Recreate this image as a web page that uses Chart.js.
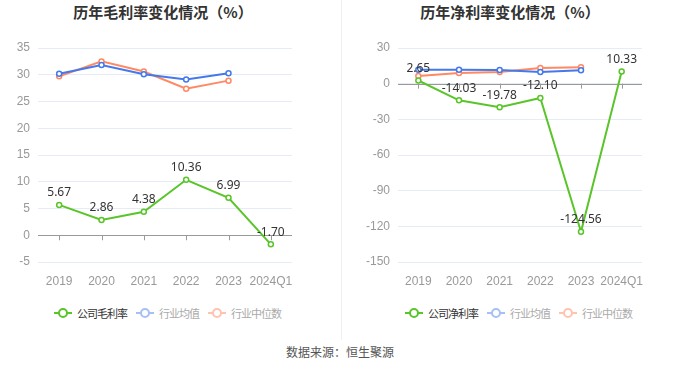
<!DOCTYPE html>
<html>
<head>
<meta charset="utf-8">
<script src="https://cdn.jsdelivr.net/npm/chart.js@4/dist/chart.umd.min.js"></script>
<style>
  body { margin: 0; width: 680px; height: 367px; background: #fff; position: relative; overflow: hidden;
         font-family: "Noto Sans CJK SC", "Noto Sans", sans-serif; }
  .box { position: absolute; top: 0; width: 340px; height: 290px; }
  .title { position: absolute; top: 1px; font-size: 15px; font-weight: bold; color: #333; transform: translateX(-50%); white-space: nowrap; }
  .sep { position: absolute; left: 341px; top: 0; width: 1px; height: 340px; background: #f0f0f0; }
  .legend { position: absolute; top: 305px; display: flex; align-items: center; font-size: 11px; letter-spacing: -1px; white-space: nowrap; }
  .item { display: flex; align-items: center; margin-right: 9px; color: #aaa; }
  .item.on { color: #333; }
  .ico { position: relative; width: 18px; height: 10px; margin-right: 5px; }
  .ico i { position: absolute; left: 0; top: 4px; width: 18px; height: 2px; }
  .ico b { position: absolute; left: 4px; top: 0; width: 6px; height: 6px; border-radius: 50%; border: 2px solid; background: #fff; }
  .src { position: absolute; top: 343px; left: 0; width: 680px; text-align: center; font-size: 12px; color: #555; }
</style>
</head>
<body>
<div class="title" style="left:163px">历年毛利率变化情况（%）</div>
<div class="title" style="left:510px">历年净利率变化情况（%）</div>
<div class="box" style="left:0"><canvas id="c1" width="340" height="290"></canvas></div>
<div class="box" style="left:340px"><canvas id="c2" width="340" height="290"></canvas></div>
<div class="sep"></div>
<div class="legend" id="lg1" style="left:54px"></div>
<div class="legend" id="lg2" style="left:405px"></div>
<div class="src">数据来源：恒生聚源</div>
<script>
const categories = ["2019", "2020", "2021", "2022", "2023", "2024Q1"];

// 毛利率
const grossCompany = [5.67, 2.86, 4.38, 10.36, 6.99, -1.70];
const grossIndustryAvg = [30.2, 31.8, 30.1, 29.1, 30.3, null];
const grossIndustryMedian = [29.7, 32.5, 30.6, 27.4, 28.9, null];
const grossTicks = { min: -5, max: 35, step: 5 };

// 净利率
const netCompany = [2.65, -14.03, -19.78, -12.10, -124.56, 10.33];
const netIndustryAvg = [11.8, 11.7, 11.4, 9.8, 11.3, null];
const netIndustryMedian = [6.4, 9.0, 9.8, 13.2, 13.8, null];
const netTicks = { min: -150, max: 30, step: 30 };

const GREEN = "#5ac52a";
const BLUE = "#4479ec";
const ORANGE = "#ff8963";

// etiquetas de valor sobre la serie de la empresa
const etiquetas = {
  id: "etiquetas",
  afterDatasetsDraw(chart) {
    const ctx = chart.ctx;
    const meta = chart.getDatasetMeta(0);
    ctx.save();
    ctx.font = "12px 'Noto Sans', sans-serif";
    ctx.fillStyle = "#333";
    ctx.textAlign = "center";
    ctx.textBaseline = "middle";
    meta.data.forEach((p, i) => {
      const v = chart.data.datasets[0].data[i];
      ctx.fillText(v.toFixed(2), p.x, p.y - 12);
    });
    ctx.restore();
  }
};

// marcas del eje x sobre la línea de cero
const marcasCero = {
  id: "marcasCero",
  beforeDatasetsDraw(chart) {
    const x = chart.scales.x, y = chart.scales.y;
    const y0 = y.getPixelForValue(0);
    const ctx = chart.ctx;
    ctx.save();
    ctx.strokeStyle = "#999";
    ctx.lineWidth = 1;
    ctx.beginPath();
    ctx.moveTo(chart.chartArea.left, Math.round(y0) + 0.5);
    ctx.lineTo(chart.chartArea.right, Math.round(y0) + 0.5);
    categories.forEach((_, i) => {
      const px = Math.round(x.getPixelForValue(i)) + 0.5;
      ctx.moveTo(px, y0);
      ctx.lineTo(px, y0 + 5);
    });
    ctx.stroke();
    ctx.restore();
  }
};

function serie(label, data, color) {
  return {
    label, data,
    borderColor: color,
    backgroundColor: "#fff",
    pointBackgroundColor: "#fff",
    pointBorderColor: color,
    pointRadius: 2.5,
    pointBorderWidth: 1.5,
    borderWidth: 2,
    tension: 0
  };
}

function crearGrafico(id, compLabel, comp, avg, med, t, yWidth, padRight) {
  return new Chart(document.getElementById(id), {
    type: "line",
    data: {
      labels: categories,
      datasets: [serie(compLabel, comp, GREEN), serie("行业均值", avg, BLUE), serie("行业中位数", med, ORANGE)]
    },
    options: {
      responsive: false,
      animation: false,
      layout: { padding: { top: 48, right: padRight, bottom: 0, left: 0 } },
      plugins: { legend: { display: false }, tooltip: { enabled: false } },
      scales: {
        x: {
          offset: true,
          grid: { display: false },
          border: { display: false },
          ticks: { color: "#999", font: { size: 12 }, padding: 4, maxRotation: 0, autoSkip: false },
          afterFit(s) { s.height = 28; }
        },
        y: {
          min: t.min, max: t.max,
          border: { display: false },
          grid: { color: "#e6ebf5", drawTicks: false },
          ticks: { stepSize: t.step, color: "#999", font: { size: 12 }, padding: 8 },
          afterFit(s) { s.width = yWidth; }
        }
      }
    },
    plugins: [marcasCero, etiquetas]
  });
}

crearGrafico("c1", "公司毛利率", grossCompany, grossIndustryAvg, grossIndustryMedian, grossTicks, 38, 48);
crearGrafico("c2", "公司净利率", netCompany, netIndustryAvg, netIndustryMedian, netTicks, 58, 38);

function leyenda(id, compLabel) {
  const items = [
    [compLabel, GREEN, GREEN, true],
    ["行业均值", "#a6c0f6", "#a6c0f6", false],
    ["行业中位数", "#ffc3ae", "#ffc3ae", false]
  ];
  document.getElementById(id).innerHTML = items.map(([t, c, b, on]) =>
    `<span class="item${on ? " on" : ""}"><span class="ico"><i style="background:${c}"></i><b style="border-color:${b}"></b></span>${t}</span>`
  ).join("");
}
leyenda("lg1", "公司毛利率");
leyenda("lg2", "公司净利率");
</script>
</body>
</html>
